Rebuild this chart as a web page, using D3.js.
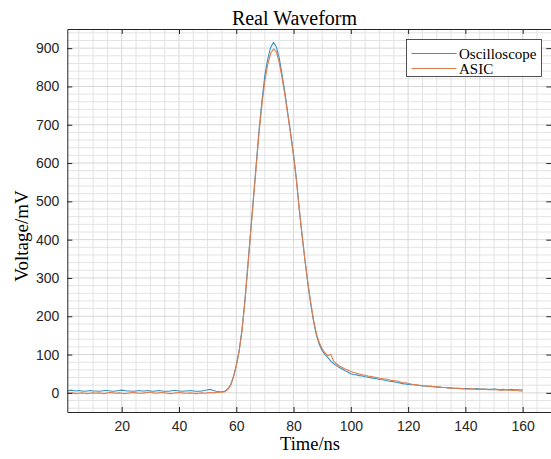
<!DOCTYPE html>
<html>
<head>
<meta charset="utf-8">
<script src="https://cdn.jsdelivr.net/npm/d3@7"></script>
<style>
  html, body { margin: 0; padding: 0; background: #fff; }
  svg { display: block; }
</style>
</head>
<body>
<svg id="chart" width="551" height="459"></svg>
<script>
// Sample times (ns), one sample per nanosecond
const timeNs = d3.range(1, 161);

// Oscilloscope capture (mV)
const oscilloscope = [
  5, 7, 6, 5, 6, 5, 4, 5, 6, 5,
  5, 4, 5, 6, 6, 5, 4, 5, 6, 7,
  6, 5, 5, 4, 5, 6, 5, 5, 6, 5,
  4, 5, 6, 5, 4, 4, 5, 6, 6, 5,
  4, 5, 5, 6, 5, 4, 4, 5, 6, 8,
  9, 6, 4, 3, 3, 4, 10, 20, 42, 72,
  110, 165, 240, 330, 420, 510, 600, 690, 765, 830,
  872, 902, 915, 903, 874, 830, 783, 730, 678, 622,
  558, 480, 410, 345, 285, 232, 186, 150, 126, 110,
  100, 92, 83, 76, 71, 66, 62, 58, 54, 50,
  48, 47, 45, 44, 42, 41, 39, 38, 37, 35,
  34, 33, 31, 30, 29, 27, 26, 24, 23, 22,
  21, 21, 20, 19, 18, 18, 17, 17, 16, 15,
  15, 14, 14, 13, 13, 12, 12, 12, 11, 11,
  11, 10, 10, 11, 10, 9, 10, 9, 9, 10,
  9, 8, 9, 8, 8, 9, 8, 8, 8, 7
];

// ASIC readout (mV)
const asic = [
  0, -1, 0, -2, -1, 0, -1, -2, -1, 0,
  -1, 0, -1, -2, 0, 1, 0, -1, 0, -1,
  -2, -1, 0, 1, 0, -1, -1, 0, 1, 2,
  0, -1, 0, 1, 0, -1, -2, -1, 0, 1,
  0, -1, -1, 0, -1, -2, -1, 0, -1, 0,
  1, 0, 1, 2, 2, 3, 9, 19, 40, 70,
  108, 162, 236, 325, 415, 505, 594, 682, 755, 815,
  858, 886, 898, 890, 862, 822, 777, 725, 673, 618,
  555, 478, 410, 346, 288, 236, 190, 154, 131, 115,
  104, 97, 101, 83, 76, 70, 66, 62, 59, 56,
  53, 51, 49, 47, 46, 44, 43, 41, 40, 38,
  37, 36, 35, 33, 32, 31, 29, 27, 26, 25,
  23, 22, 21, 20, 19, 18, 17, 17, 16, 16,
  15, 14, 14, 13, 12, 12, 12, 11, 11, 10,
  10, 11, 10, 9, 9, 10, 9, 8, 8, 9,
  8, 7, 7, 8, 7, 7, 6, 6, 5, 5
];

const seriesNames = ["Oscilloscope", "ASIC"];
const xTicks = [20, 40, 60, 80, 100, 120, 140, 160];
const yTicks = [0, 100, 200, 300, 400, 500, 600, 700, 800, 900];

const svg = d3.select("#chart");
const plotLeft = 67.3, plotRight = 551.3, plotTop = 29, plotBottom = 412;

const x = d3.scaleLinear().domain([1, 170]).range([plotLeft, plotRight]);
const y = d3.scaleLinear().domain([-50, 950]).range([plotBottom, plotTop]);
const color = d3.scaleOrdinal().domain(seriesNames).range(["#3592c4", "#de7d4e"]);

// Grid: fine lines every 5 ns / 20 mV
const g = svg.append("g");
g.selectAll("line.vx").data(d3.range(5, 170, 5)).join("line")
  .attr("x1", d => x(d)).attr("x2", d => x(d))
  .attr("y1", plotTop).attr("y2", plotBottom)
  .attr("stroke", d => d % 20 === 0 ? "#d8d8d8" : "#e3e3e3").attr("stroke-width", 1);
g.selectAll("line.hy").data(d3.range(-40, 950, 20)).join("line")
  .attr("x1", plotLeft).attr("x2", plotRight)
  .attr("y1", d => y(d)).attr("y2", d => y(d))
  .attr("stroke", d => d % 100 === 0 ? "#d8d8d8" : "#e3e3e3").attr("stroke-width", 1);

// Waveforms
const line = d3.line().x(d => x(d[0])).y(d => y(d[1]));
const seriesData = [oscilloscope, asic];
svg.append("g").selectAll("path").data(seriesNames).join("path")
  .attr("d", (name, i) => line(timeNs.map((t, k) => [t, seriesData[i][k]])))
  .attr("fill", "none")
  .attr("stroke", d => color(d))
  .attr("stroke-width", 1.1)
  .attr("stroke-linejoin", "round");

// Axes with inward ticks on all four sides
const axisColor = "#262626";
const tickFont = "'Liberation Sans', Arial, sans-serif";

const xAxis = svg.append("g").attr("transform", `translate(0,${plotBottom})`)
  .call(d3.axisBottom(x).tickValues(xTicks).tickSizeInner(-5).tickSizeOuter(0).tickPadding(9));
const xTopAxis = svg.append("g").attr("transform", `translate(0,${plotTop})`)
  .call(d3.axisTop(x).tickValues(xTicks).tickSizeInner(-5).tickSizeOuter(0).tickFormat(""));
const yAxis = svg.append("g").attr("transform", `translate(${plotLeft},0)`)
  .call(d3.axisLeft(y).tickValues(yTicks).tickSizeInner(-5).tickSizeOuter(0).tickPadding(8));
const yRightAxis = svg.append("g").attr("transform", `translate(${plotRight},0)`)
  .call(d3.axisRight(y).tickValues(yTicks).tickSizeInner(-5).tickSizeOuter(0).tickFormat(""));

[xAxis, xTopAxis, yAxis, yRightAxis].forEach(a => {
  a.select(".domain").attr("stroke", axisColor).attr("stroke-width", 1);
  a.selectAll(".tick line").attr("stroke", axisColor).attr("stroke-width", 1);
  a.selectAll(".tick text").attr("fill", axisColor)
    .style("font-family", tickFont).style("font-size", "14px");
});

// Titles
const serif = "'Liberation Serif', 'Times New Roman', serif";
svg.append("text").attr("x", 294.5).attr("y", 25).attr("text-anchor", "middle")
  .style("font-family", serif).style("font-size", "20px").attr("fill", "#000")
  .text("Real Waveform");
svg.append("text").attr("x", 310).attr("y", 450).attr("text-anchor", "middle")
  .style("font-family", serif).style("font-size", "18.5px").attr("fill", "#000")
  .text("Time/ns");
svg.append("text").attr("transform", "translate(28,236) rotate(-90)").attr("text-anchor", "middle")
  .style("font-family", serif).style("font-size", "19px").attr("fill", "#000")
  .text("Voltage/mV");

// Legend
const lg = svg.append("g");
lg.append("rect").attr("x", 406.5).attr("y", 39.5).attr("width", 135).attr("height", 37)
  .attr("fill", "#fff").attr("stroke", axisColor).attr("stroke-width", 0.8);
const items = lg.selectAll("g.item").data(seriesNames).join("g")
  .attr("transform", (d, i) => `translate(0,${53.5 + i * 15})`);
items.append("line").attr("x1", 411.5).attr("x2", 456.5).attr("y1", 0).attr("y2", 0)
  .attr("stroke", d => color(d)).attr("stroke-width", 1.1);
items.append("text").attr("x", 459).attr("y", 5)
  .style("font-family", serif).style("font-size", "15px").attr("fill", "#000")
  .text(d => d);
</script>
</body>
</html>
